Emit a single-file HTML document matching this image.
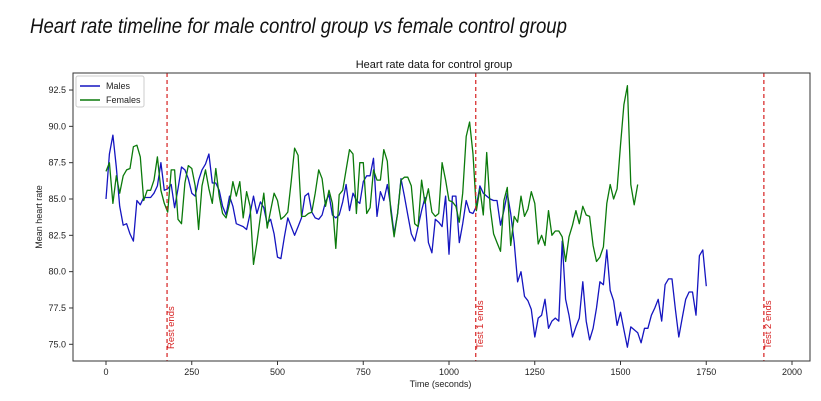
<!DOCTYPE html>
<html><head><meta charset="utf-8"><style>
html,body{margin:0;padding:0;background:#fff;}
svg{display:block;font-family:"Liberation Sans",sans-serif;}
</style></head><body>
<svg id="chart" width="821" height="401" viewBox="0 0 821 401">
<rect width="821" height="401" fill="#fff"/>
<text x="30" y="33" font-size="21" font-style="italic" fill="#111" textLength="537" lengthAdjust="spacingAndGlyphs">Heart rate timeline for male control group vs female control group</text>
<text x="434" y="68" font-size="11" text-anchor="middle" fill="#111">Heart rate data for control group</text>
<g id="plot"></g>
</svg>
<script>
const maleValues = [85.0,88.1,89.4,87.2,84.5,83.2,83.3,82.6,82.1,84.9,84.6,85.1,85.1,85.1,85.4,85.9,87.5,85.6,85.7,86.0,84.4,85.7,87.2,87.0,86.4,85.4,85.2,86.3,87.0,87.4,88.1,86.1,86.1,85.6,84.5,83.9,85.2,84.5,83.3,83.2,83.1,82.9,84.0,85.2,84.0,84.8,84.4,83.3,83.6,82.6,81.0,80.9,82.4,83.7,83.1,82.5,83.1,83.7,85.2,85.4,84.1,83.7,83.6,83.9,84.8,85.3,83.9,83.7,83.9,84.8,86.0,84.2,85.4,84.9,84.7,
86.2,86.6,86.6,87.8,83.8,85.5,84.9,86.0,84.5,82.6,84.0,86.4,85.2,83.9,82.6,82.1,83.1,84.2,85.1,82.0,81.3,83.6,83.4,83.1,85.2,81.2,85.2,85.2,82.0,83.3,84.9,84.1,84.0,84.5,
85.9,85.4,85.2,85.0,84.9,84.9,83.2,84.2,85.4,84.0,82.0,79.3,80.0,78.3,78.0,77.4,75.5,76.8,77.0,78.1,76.1,76.6,76.8,76.6,82.1,78.1,77.0,75.5,76.2,76.8,79.3,76.6,75.3,76.1,77.5,79.3,79.1,81.5,78.7,78.0,76.3,77.2,76.0,74.8,76.2,76.0,75.8,75.1,76.1,76.1,77.0,77.5,78.1,76.6,79.1,79.5,79.5,77.4,75.5,76.8,78.1,78.6,78.6,77.0,81.1,81.5,79.0];
const femaleValues = [86.9,87.5,84.7,86.6,85.4,86.6,87.0,87.1,88.6,88.7,87.9,84.9,85.6,85.6,86.3,87.9,85.6,84.7,84.1,87.0,87.0,83.6,83.3,86.1,87.3,87.1,85.9,82.9,85.9,87.0,85.7,84.7,87.1,85.2,84.0,83.7,84.7,86.2,85.2,86.2,83.7,85.5,84.5,80.5,82.0,83.8,85.4,83.0,84.2,85.4,84.9,83.6,83.8,84.1,86.2,88.5,88.0,83.8,83.8,84.0,84.1,85.4,87.0,86.4,84.5,85.6,84.7,81.6,85.3,85.6,87.0,88.4,88.1,84.0,87.5,
87.5,84.0,84.4,87.0,86.3,86.3,88.4,87.6,84.2,82.4,84.0,86.3,86.5,86.5,85.9,83.3,83.1,86.3,84.7,85.7,84.1,83.8,84.0,87.5,86.3,84.9,84.8,84.5,83.4,85.4,89.3,90.3,88.1,84.2,
85.7,83.9,88.2,84.4,82.6,82.0,81.4,84.9,85.8,81.8,83.8,83.4,85.2,83.8,84.3,85.5,84.7,81.9,82.5,81.8,84.2,82.5,82.8,82.8,82.4,80.7,82.4,83.2,84.2,83.3,84.5,83.9,83.8,81.8,80.7,81.0,81.7,84.7,86.0,85.0,85.7,88.7,91.5,92.8,86.0,84.6,86.0];
const timeStep = 10;
const xTicks = [0,250,500,750,1000,1250,1500,1750,2000];
const yTicks = [75.0,77.5,80.0,82.5,85.0,87.5,90.0,92.5];
const eventTimes = [178,1078,1918];
const eventLabels = ["Rest ends","Test 1 ends","Test 2 ends"];
const seriesNames = ["Males","Females"];

const L=73,R=810,T=73,B=361;
const xS = t => 106 + t*0.343;
const yS = v => 344.3 - (v-75)*14.53;
const NS="http://www.w3.org/2000/svg";
const g=document.getElementById('plot');
function mk(tag,attrs,parent){const e=document.createElementNS(NS,tag);for(const k in attrs)e.setAttribute(k,attrs[k]);(parent||g).appendChild(e);return e;}

const colors=["#1515c0","#0b7a0b"];
[maleValues,femaleValues].forEach((vals,si)=>{
  const pts=vals.map((v,i)=>xS(i*timeStep).toFixed(1)+","+yS(v).toFixed(1)).join(" ");
  const pl=mk('polyline',{points:pts,fill:"none",stroke:colors[si],"stroke-width":1.3,"stroke-linejoin":"round"});
  
  
});

eventTimes.forEach((t,i)=>{
  const x=xS(t);
  const ln=mk('line',{x1:x,x2:x,y1:T,y2:B,stroke:"#d62020","stroke-width":1.2,"stroke-dasharray":"4,3"});
  
  
  const tx=mk('text',{x:0,y:0,transform:`translate(${x+7},349) rotate(-90)`,"font-size":9.5,fill:"#d62020"});
  tx.textContent=eventLabels[i];
  
  
});

const fr=mk('rect',{x:L,y:T,width:R-L,height:B-T,fill:"none",stroke:"#333","stroke-width":1});



xTicks.forEach(t=>{
  const x=xS(t);
  mk('line',{x1:x,x2:x,y1:B,y2:B+4,stroke:"#333"});
  const tx=mk('text',{x:x,y:B+14,"font-size":9,"text-anchor":"middle",fill:"#222"});
  tx.textContent=t;
  
  
});
yTicks.forEach(v=>{
  const y=yS(v);
  mk('line',{x1:L-4,x2:L,y1:y,y2:y,stroke:"#333"});
  const tx=mk('text',{x:L-7,y:y+3,"font-size":9,"text-anchor":"end",fill:"#222"});
  tx.textContent=v.toFixed(1);
  
  
});
const xl=mk('text',{x:(L+R)/2-1,y:387,"font-size":9,"text-anchor":"middle",fill:"#222"});
xl.textContent="Time (seconds)";


const yl=mk('text',{x:0,y:0,transform:`translate(42,${(T+B)/2}) rotate(-90)`,"font-size":9,"text-anchor":"middle",fill:"#222"});
yl.textContent="Mean heart rate";



const lg=mk('g',{});


mk('rect',{x:76,y:76,width:68,height:31,rx:2,fill:"#fff",stroke:"#ccc"},lg);
seriesNames.forEach((n,i)=>{
  const y=86+i*14;
  mk('line',{x1:80,x2:100,y1:y,y2:y,stroke:colors[i],"stroke-width":1.5},lg);
  const tx=mk('text',{x:106,y:y+3,"font-size":9,fill:"#222"},lg);
  tx.textContent=n;
  
  
});
</script>
</body></html>
